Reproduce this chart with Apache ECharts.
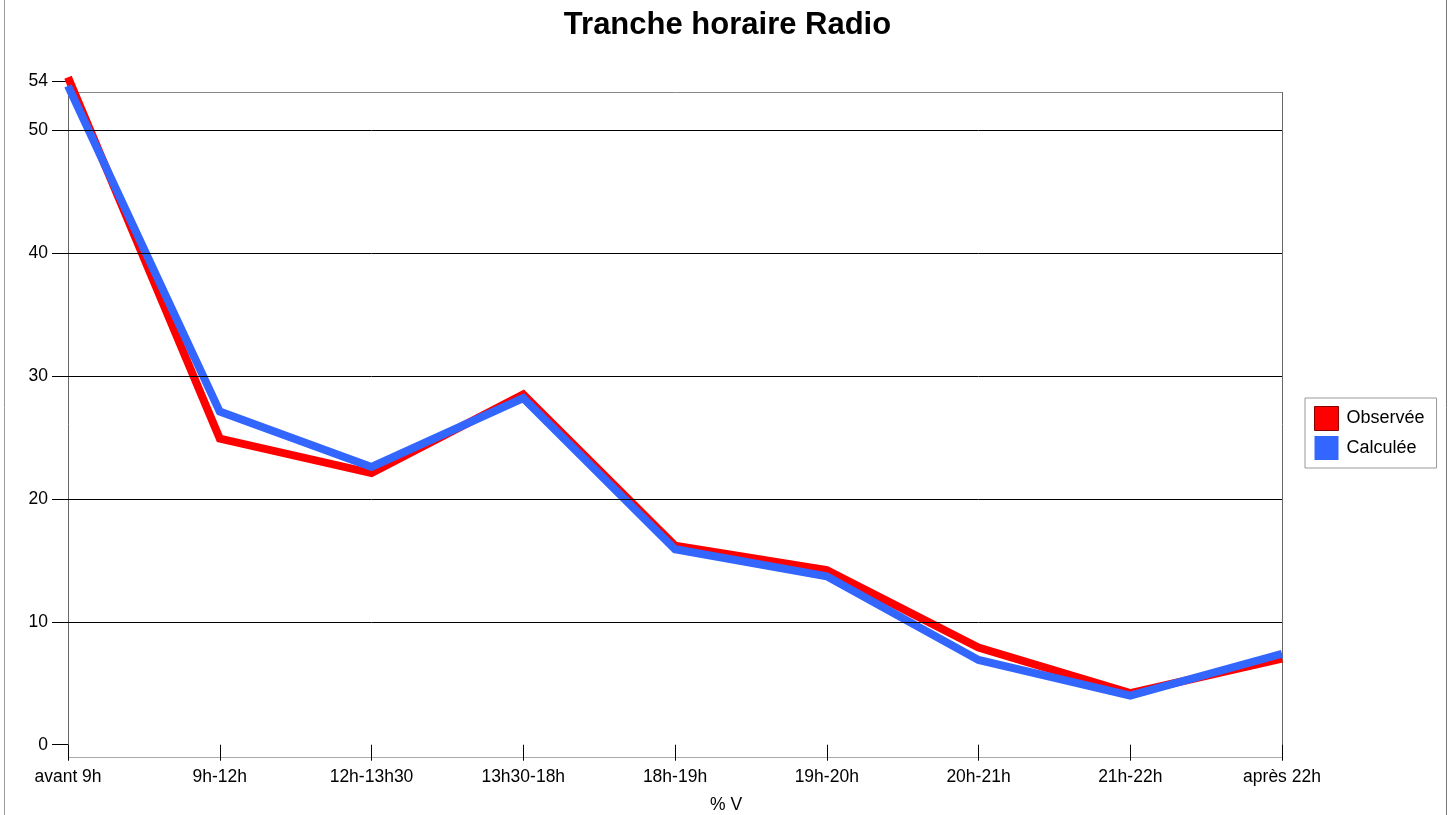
<!DOCTYPE html>
<html>
<head>
<meta charset="utf-8">
<script src="https://cdn.jsdelivr.net/npm/echarts@6/dist/echarts.min.js"></script>
<style>
html,body{margin:0;padding:0;background:#fff;}
#chart{width:1455px;height:815px;}
</style>
</head>
<body>
<div id="chart"></div>
<script>
const categories = ['avant 9h','9h-12h','12h-13h30','13h30-18h','18h-19h','19h-20h','20h-21h','21h-22h','après 22h'];
const observee = [54.3, 24.9, 22.1, 28.5, 16.2, 14.2, 7.9, 4.2, 7.0];
const calculee = [53.6, 27.1, 22.6, 28.2, 15.9, 13.7, 6.9, 4.0, 7.4];
const yTicks = [0, 10, 20, 30, 40, 50, 54];
const gridLines = [10, 20, 30, 40, 50];

const FONT = '"Liberation Sans", Arial, sans-serif';
const chart = echarts.init(document.getElementById('chart'), null, {renderer:'canvas'});
chart.setOption({
  animation: false,
  backgroundColor: '#fff',
  title: {
    text: 'Tranche horaire Radio', left: 'center', top: 5,
    textStyle: {fontFamily: FONT, fontSize: 31, fontWeight: 'bold', color: '#000'}
  },
  legend: {
    orient: 'vertical', left: 1305, top: 398,
    data: [
      {name: 'Observée', icon: 'rect', itemStyle: {color: '#ff0000', borderColor: '#8a0000', borderWidth: 1}},
      {name: 'Calculée', icon: 'rect', itemStyle: {color: '#3366ff'}}
    ],
    itemWidth: 24, itemHeight: 24, itemGap: 5,
    padding: [8, 12, 8, 9],
    borderColor: '#999', borderWidth: 1,
    textStyle: {fontFamily: FONT, fontSize: 18, color: '#000', padding: [0, 0, 0, 3]}
  },
  grid: {left: 68, right: 173, top: 81, bottom: 58, containLabel: false, outerBoundsMode: 'none'},
  xAxis: {
    type: 'category', data: categories, boundaryGap: false,
    axisLine: {show: false, onZero: true},
    axisTick: {show: true, length: 16, lineStyle: {color: '#000'}},
    axisLabel: {margin: 11, fontFamily: FONT, fontSize: 17.5, color: '#000'},
    splitLine: {show: false},
    name: '% V', nameLocation: 'middle', nameGap: 39,
    nameTextStyle: {fontFamily: FONT, fontSize: 17.5, color: '#000', padding: [0, 0, 0, 102]}
  },
  yAxis: {
    type: 'value', min: -1, max: 54,
    axisLine: {show: false},
    axisTick: {show: true, length: 16, customValues: yTicks, lineStyle: {color: '#000'}},
    axisLabel: {customValues: yTicks, margin: 20, fontFamily: FONT, fontSize: 17.5, color: '#000'},
    splitLine: {show: false}
  },
  graphic: [
    {type: 'line', shape: {x1: 4.5, y1: 0, x2: 4.5, y2: 815}, style: {stroke: '#999', lineWidth: 1}, silent: true},
    {type: 'line', shape: {x1: 1446.5, y1: 0, x2: 1446.5, y2: 815}, style: {stroke: '#777', lineWidth: 1}, silent: true},
    {type: 'line', z: 0, shape: {x1: 68.5, y1: 92.5, x2: 1282.5, y2: 92.5}, style: {stroke: '#888', lineWidth: 1}, silent: true},
    {type: 'line', z: 0, shape: {x1: 68.5, y1: 92, x2: 68.5, y2: 757}, style: {stroke: '#666', lineWidth: 1}, silent: true},
    {type: 'line', z: 0, shape: {x1: 1282.5, y1: 92, x2: 1282.5, y2: 757}, style: {stroke: '#666', lineWidth: 1}, silent: true},
    {type: 'line', z: 0, shape: {x1: 68, y1: 757.5, x2: 1282, y2: 757.5}, style: {stroke: '#aaa', lineWidth: 1}, silent: true}
  ],
  series: [
    {
      name: 'grid', type: 'line', data: [], z: 1, silent: true,
      markLine: {
        silent: true, symbol: 'none', label: {show: false},
        lineStyle: {color: '#000', width: 1, type: 'solid'},
        data: gridLines.map(v => ({yAxis: v}))
      }
    },
    {
      name: 'Observée', type: 'line', data: observee, z: 3, clip: false,
      showSymbol: false, symbol: 'none', color: '#ff0000',
      lineStyle: {color: '#ff0000', width: 8, cap: 'butt', join: 'miter'}
    },
    {
      name: 'Calculée', type: 'line', data: calculee, z: 4, clip: false,
      showSymbol: false, symbol: 'none', color: '#3366ff',
      lineStyle: {color: '#3366ff', width: 8, cap: 'butt', join: 'miter'}
    }
  ]
});
</script>
</body>
</html>
